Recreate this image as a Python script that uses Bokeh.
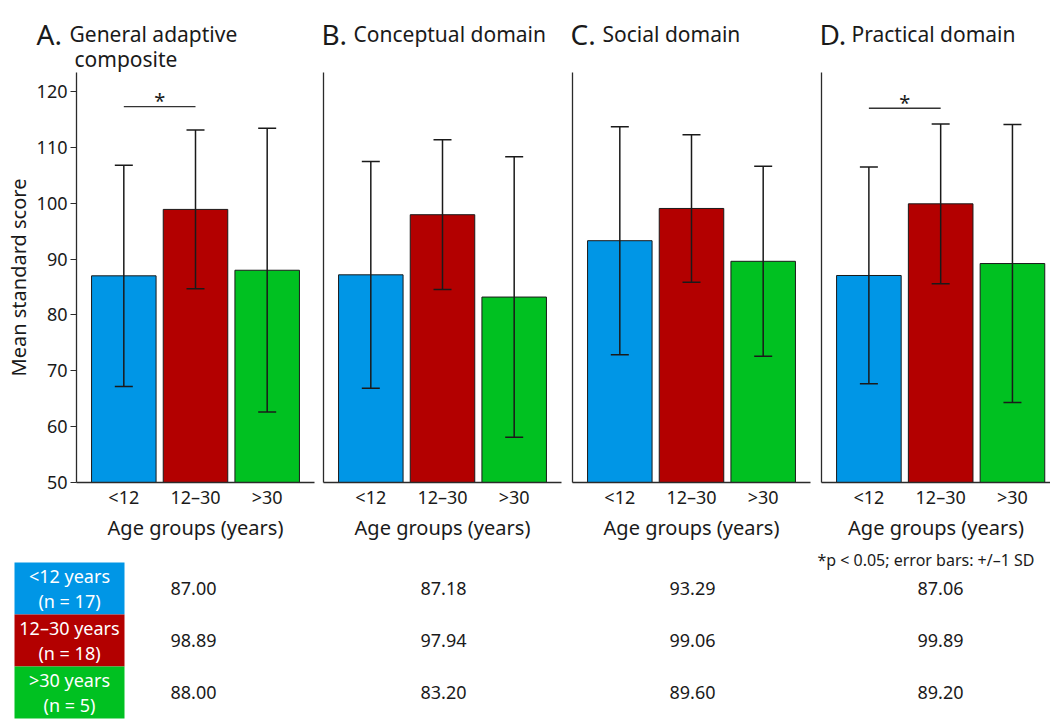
from bokeh.plotting import figure
from bokeh.models import ColumnDataSource, Range1d, FixedTicker, Whisker, TeeHead
from bokeh.layouts import row, column
from bokeh.embed import file_html
from bokeh.resources import INLINE
from bokeh.core.properties import value

# ---------------- data ----------------
categories = ["<12", "12–30", ">30"]
group_labels = ["<12 years\n(n = 17)", "12–30 years\n(n = 18)", ">30 years\n(n = 5)"]
panel_letters = ["A.", "B.", "C.", "D."]
panel_titles = [["General adaptive", "composite"], ["Conceptual domain"], ["Social domain"], ["Practical domain"]]
means_A = [87.00, 98.89, 88.00]
means_B = [87.18, 97.94, 83.20]
means_C = [93.29, 99.06, 89.60]
means_D = [87.06, 99.89, 89.20]
sd_A = [19.8, 14.2, 25.4]
sd_B = [20.3, 13.4, 25.1]
sd_C = [20.4, 13.2, 17.0]
sd_D = [19.4, 14.3, 24.9]
sig_A = [(0, 1, 117.3, "*")]
sig_B = []
sig_C = []
sig_D = [(0, 1, 117.0, "*")]
y_ticks = [50, 60, 70, 80, 90, 100, 110, 120]
x_label = "Age groups (years)"
y_label = "Mean standard score"
footnote = "*p < 0.05; error bars: +/–1 SD"

# ---------------- style / layout ----------------
COLORS = ["#0096e6", "#b30000", "#00c121"]
FONT = "Noto Sans"
INK = "#1a1a1a"
AX = "#2b2b2b"
PAGE_W = 1050
TOP_H = 72

panels = [
    (means_A, sd_A, sig_A),
    (means_B, sd_B, sig_B),
    (means_C, sd_C, sig_C),
    (means_D, sd_D, sig_D),
]
# (frame width, left border, right border, x end)
layout = [
    (238, 76, 4, 2.66),
    (238, 5, 6, 2.66),
    (238, 5, 6, 2.66),
    (229, 5, 0, 2.53),
]
frame_left = [76, 323, 572, 821]

# ---------------- title strip ----------------
top = figure(width=PAGE_W, height=TOP_H, x_range=Range1d(0, PAGE_W), y_range=Range1d(TOP_H, 0),
             x_axis_location=None, y_axis_location=None, min_border=0,
             output_backend="svg", toolbar_location=None)
top.outline_line_color = None
top.grid.visible = False
for i in range(4):
    if i == 0:
        lx, tx = 36, 69
    else:
        lx, tx = frame_left[i] - 2, frame_left[i] + 30
    top.text(x=[lx], y=[33], text=[panel_letters[i]], text_font=value(FONT),
             text_font_size="28px", text_color=INK, text_baseline="alphabetic", text_align="left")
    for k, line in enumerate(panel_titles[i]):
        top.text(x=[tx + 5 * k], y=[33 + 25 * k], text=[line], text_font=value(FONT),
                 text_font_size="21px", text_color=INK, text_baseline="alphabetic",
                 text_align="left")

# ---------------- panels ----------------
figs = []
for i, ((means, sds, sig), (fw, bl, br, xend)) in enumerate(zip(panels, layout)):
    xs = list(range(len(categories)))
    src = ColumnDataSource(dict(
        x=xs, top=means,
        lower=[m - s for m, s in zip(means, sds)],
        upper=[m + s for m, s in zip(means, sds)],
        color=COLORS,
    ))
    p = figure(frame_width=fw, frame_height=410,
               x_range=Range1d(-0.66, xend), y_range=Range1d(50, 123.4),
               output_backend="svg", toolbar_location=None,
               min_border_left=bl, min_border_right=br,
               min_border_top=0, min_border_bottom=66)
    p.outline_line_color = None
    p.grid.visible = False

    p.vbar(x="x", top="top", bottom=50, width=0.9, fill_color="color",
           line_color=INK, line_width=1, source=src)
    p.add_layout(Whisker(base="x", lower="lower", upper="upper", source=src,
                         level="annotation",
                         line_color=INK, line_width=1.5,
                         upper_head=TeeHead(size=18, line_color=INK, line_width=1.5),
                         lower_head=TeeHead(size=18, line_color=INK, line_width=1.5)))
    for (a, b, lvl, mark) in sig:
        p.segment(x0=[a], x1=[b], y0=[lvl], y1=[lvl], line_color="#333333", line_width=1.3)
        p.text(x=[(a + b) / 2], y=[lvl], text=[mark], text_align="center",
               text_baseline="alphabetic", text_font=value(FONT), y_offset=-6,
               text_font_size="20px", text_color=INK)

    xa = p.xaxis[0]
    xa.ticker = FixedTicker(ticks=xs)
    xa.major_label_overrides = {k: c for k, c in zip(xs, categories)}
    xa.major_tick_line_color = None
    xa.minor_tick_line_color = None
    xa.major_tick_out = 0
    xa.major_tick_in = 0
    xa.axis_line_color = AX
    xa.axis_line_width = 1.3
    xa.major_label_standoff = 2
    xa.major_label_text_font = FONT
    xa.major_label_text_font_size = "18px"
    xa.major_label_text_color = INK
    xa.axis_label = x_label
    xa.axis_label_text_font = FONT
    xa.axis_label_text_font_size = "20px"
    xa.axis_label_text_font_style = "normal"
    xa.axis_label_text_color = INK
    xa.axis_label_standoff = 2

    ya = p.yaxis[0]
    ya.minor_tick_line_color = None
    ya.axis_line_color = AX
    ya.axis_line_width = 1.3
    if i == 0:
        ya.ticker = FixedTicker(ticks=y_ticks)
        ya.major_tick_line_color = AX
        ya.major_tick_out = 6
        ya.major_tick_in = 0
        ya.major_label_standoff = 3
        ya.major_label_text_font = FONT
        ya.major_label_text_font_size = "18px"
        ya.major_label_text_color = INK
        ya.axis_label = y_label
        ya.axis_label_text_font = FONT
        ya.axis_label_text_font_size = "20px"
        ya.axis_label_text_font_style = "normal"
        ya.axis_label_text_color = INK
        ya.axis_label_standoff = 2
    else:
        ya.ticker = FixedTicker(ticks=[])
        ya.major_tick_line_color = None
        ya.major_tick_out = 0
        ya.major_tick_in = 0
        ya.major_label_standoff = 0
    figs.append(p)

# ---------------- table ----------------
all_means = [means_A, means_B, means_C, means_D]
col_x = [193, 443, 692, 940]
n = len(categories)
rows_y = [n - r - 0.5 for r in range(n)]

t = figure(width=PAGE_W, height=171, x_range=Range1d(0, PAGE_W), y_range=Range1d(-0.02, 3.27),
           x_axis_location=None, y_axis_location=None, min_border=0,
           output_backend="svg", toolbar_location=None)
t.outline_line_color = None
t.grid.visible = False
t.rect(x=69, y=rows_y, width=110, height=1, fill_color=COLORS, line_color=None)
t.text(x=69, y=rows_y, text=group_labels, text_color="white", text_align="center",
       text_baseline="middle", text_font=value(FONT), text_font_size="18px",
       text_line_height=1.05)
for cx, ms in zip(col_x, all_means):
    t.text(x=cx, y=rows_y, text=[f"{m:.2f}" for m in ms], text_color=INK,
           text_align="center", text_baseline="middle", text_font=value(FONT),
           text_font_size="18px")
t.text(x=[1034], y=[3.04], text=[footnote], text_color=INK, text_align="right",
       text_baseline="middle", text_font=value(FONT), text_font_size="16px")

lay = column(top, row(*figs, spacing=0), t, spacing=0)
open("out.html", "w").write(file_html(lay, INLINE))
